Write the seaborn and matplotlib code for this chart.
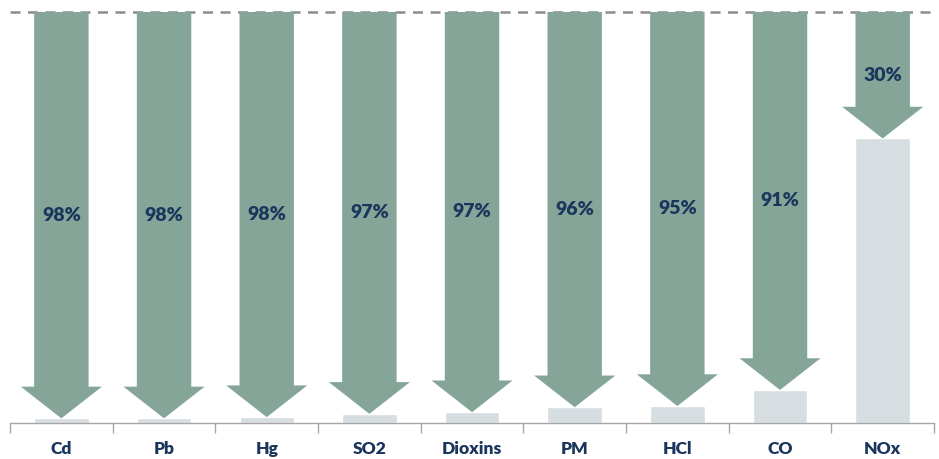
import pandas as pd
import seaborn as sns
import matplotlib.pyplot as plt
from matplotlib.patches import FancyArrow
from matplotlib.ticker import FixedLocator

pollutants = ['Cd', 'Pb', 'Hg', 'SO2', 'Dioxins', 'PM', 'HCl', 'CO', 'NOx']
reduction_labels = ['98%', '98%', '98%', '97%', '97%', '96%', '95%', '91%', '30%']
remaining = [1.2, 1.2, 1.5, 2.3, 2.7, 3.9, 4.2, 8.1, 69.2]

green = '#84a598'
light = '#d6dee1'
navy = '#1b365d'

sns.set_theme(style="white")
plt.rcParams['font.family'] = ['Lato', 'DejaVu Sans']

df = pd.DataFrame({'pollutant': pollutants, 'remaining': remaining})

fig = plt.figure(figsize=(9.39, 4.59), dpi=100)
ax = fig.add_axes([0.0107, 0.0778, 0.984, 0.8967])

sns.barplot(data=df, x='pollutant', y='remaining', color=light, width=0.53,
            saturation=1, ax=ax, zorder=1)

for i, r in enumerate(remaining):
    arr = FancyArrow(i, 100, 0, r - 100, width=0.53, head_width=0.79,
                     head_length=7.7, length_includes_head=True,
                     color=green, linewidth=0, zorder=2)
    ax.add_patch(arr)
    ax.text(i, (100 + r) / 2, reduction_labels[i], ha='center', va='center',
            fontsize=14, fontweight='heavy', color=navy, zorder=3)

ax.axhline(100, color='#8c8c8c', linestyle=(0, (4, 3)), linewidth=1.8,
           clip_on=False, zorder=0)

ax.set_xlim(-0.5, len(pollutants) - 0.5)
ax.set_ylim(0, 100)
ax.set_xlabel('')
ax.set_ylabel('')
ax.set_yticks([])

for s in ['top', 'left', 'right']:
    ax.spines[s].set_visible(False)
ax.spines['bottom'].set_color('#a6a6a6')
ax.spines['bottom'].set_linewidth(1)

ax.xaxis.set_major_locator(FixedLocator([i - 0.5 for i in range(len(pollutants) + 1)]))
ax.xaxis.set_minor_locator(FixedLocator(list(range(len(pollutants)))))
ax.set_xticklabels([])
ax.set_xticklabels(pollutants, minor=True)
ax.tick_params(axis='x', which='major', bottom=True, direction='out', length=7,
               width=1, color='#a6a6a6')
ax.tick_params(axis='x', which='minor', bottom=False, length=0, pad=13,
               labelsize=12.5, labelcolor=navy)
for lbl in ax.get_xticklabels(minor=True):
    lbl.set_fontweight('heavy')

fig.savefig('out.png', dpi=100)
